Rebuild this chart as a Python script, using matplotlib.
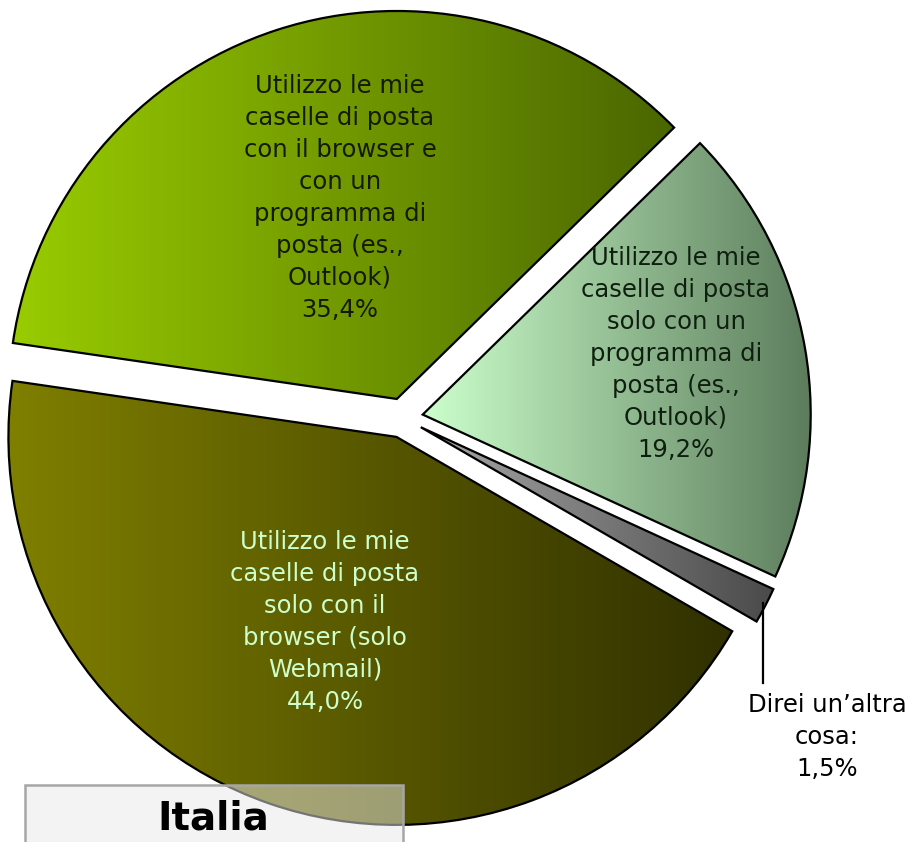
import numpy as np
import matplotlib
matplotlib.use("Agg")
import matplotlib.pyplot as plt
from matplotlib.colors import LinearSegmentedColormap

# ---- data ----
categories = [
    "Utilizzo le mie\ncaselle di posta\ncon il browser e\ncon un\nprogramma di\nposta (es.,\nOutlook)",
    "Utilizzo le mie\ncaselle di posta\nsolo con un\nprogramma di\nposta (es.,\nOutlook)",
    "Direi un\u2019altra\ncosa:",
    "Utilizzo le mie\ncaselle di posta\nsolo con il\nbrowser (solo\nWebmail)",
]
values = [35.4, 19.2, 1.5, 44.0]
value_labels = ["35,4%", "19,2%", "1,5%", "44,0%"]
title = "Italia"

# ---- styles ----
grad_left = ["#99CC00", "#CCFFCC", "#A8A8A8", "#808000"]
grad_right = ["#4A6600", "#5A7A5A", "#4A4A4A", "#303000"]
text_colors = ["#141A00", "#0F1F0F", "#000000", "#CCFFCC"]

W, H = 908, 842
cx, cy, R = 403, 418, 388  # pie centre / radius in pixels


def px(x, y):
    return (x - cx) / R, (cy - y) / R


fig = plt.figure(figsize=(W / 100, H / 100), dpi=100)
ax = fig.add_axes([0, 0, 1, 1])

wedges, _ = ax.pie(values, startangle=171.7, counterclock=False,
                   explode=[20 / R] * 4, radius=1, center=(0, 0),
                   wedgeprops=dict(edgecolor="black", linewidth=1.6))

ax.set_xlim(-cx / R, (W - cx) / R)
ax.set_ylim((cy - H) / R, cy / R)
ax.set_aspect("auto")
ax.axis("off")

grad = np.linspace(0, 1, 256).reshape(1, -1)
for i, w in enumerate(wedges):
    verts = w.get_patch_transform().transform(w.get_path().vertices)
    x0, x1 = verts[:, 0].min(), verts[:, 0].max()
    y0, y1 = verts[:, 1].min(), verts[:, 1].max()
    cmap = LinearSegmentedColormap.from_list(f"g{i}", [grad_left[i], grad_right[i]])
    im = ax.imshow(grad, cmap=cmap, extent=[x0, x1, y0, y1], aspect="auto",
                   zorder=w.get_zorder() - 0.1, interpolation="bilinear")
    im.set_clip_path(w)
    w.set_facecolor("none")
    w.set_zorder(2)

ax.set_xlim(-cx / R, (W - cx) / R)
ax.set_ylim((cy - H) / R, cy / R)

fs = 17.5
ls = 1.42
label_pos = [(340, 198), (676, 354), (827, 737), (325, 622)]
for i, (cat, val) in enumerate(zip(categories, value_labels)):
    x, y = px(*label_pos[i])
    ax.text(x, y, cat + "\n" + val, ha="center", va="center", fontsize=fs,
            color=text_colors[i], linespacing=ls, zorder=5,
            family="DejaVu Sans")

# leader line for small slice
(lx0, ly0), (lx1, ly1) = px(763, 603), px(763, 683)
ax.plot([lx0, lx1], [ly0, ly1], color="black", lw=1.6, zorder=5)

# title box
bx0, by0 = px(25, 785)
bx1, by1 = px(403, 860)
ax.add_patch(plt.Rectangle((bx0, by1), bx1 - bx0, by0 - by1,
                           facecolor="#E8E8E8", alpha=0.5, edgecolor="none",
                           zorder=6))
ax.add_patch(plt.Rectangle((bx0, by1), bx1 - bx0, by0 - by1,
                           facecolor="none", edgecolor="#A6A6A6", lw=1.8,
                           zorder=6.1))
tx, ty = px(213, 818)
ax.text(tx, ty, title, ha="center", va="center", fontsize=28,
        fontweight="bold", color="black", zorder=7, family="DejaVu Sans")

fig.savefig("out.png", dpi=100)
